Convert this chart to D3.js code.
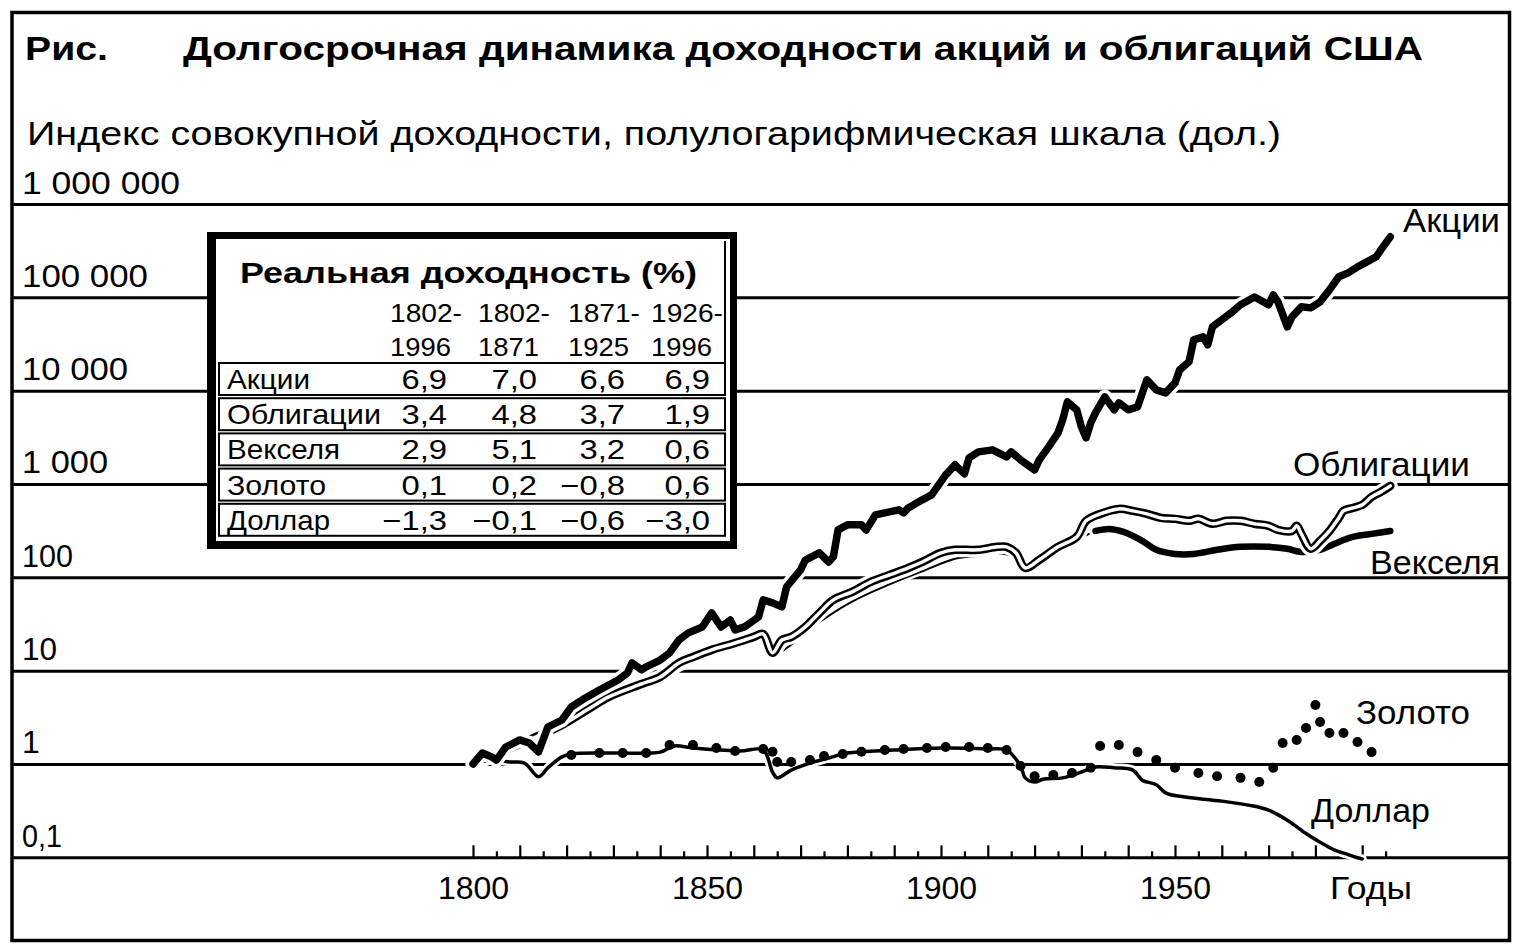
<!DOCTYPE html>
<html><head><meta charset="utf-8">
<script src="https://cdn.jsdelivr.net/npm/d3@7"></script>
<style>
html,body{margin:0;padding:0;background:#fff;}
svg{display:block;font-family:"Liberation Sans",Arial,Helvetica,sans-serif;}
</style></head><body>
<svg id="c" width="1524" height="951"></svg>
<script>
// ---------------- DATA ----------------
const stockSeries = [[1800,1],[1802,1.31],[1804,1.19],[1805,1.10],[1807,1.52],[1810,1.81],[1812,1.68],[1814,1.35],[1816,2.49],[1819,2.96],
[1821,4.08],[1824,5.10],[1827,6.21],[1831,7.95],[1833,9.45],[1834,12.1],[1836,10.2],[1837,11.0],[1840,13.0],[1842,15.5],
[1844,21.3],[1846,25.4],[1849,29.4],[1851,41.5],[1853,29.4],[1855,34.9],[1856,27.3],[1858,29.4],[1861,37.6],[1862,57.3],
[1864,53.2],[1866,48.2],[1867,78.9],[1870,120],[1871,153],[1874,183],[1876,146],[1877,166],[1878,322],[1880,365],
[1883,365],[1884,322],[1886,467],[1888,490],[1891,528],[1892,490],[1893,554],[1896,676],[1898,765],[1901,1253],
[1903,1604],[1905,1283],[1906,1905],[1908,2210],[1911,2320],[1914,1950],[1915,2210],[1917,1813],[1920,1416],[1921,1813],
[1923,2500],[1925,3530],[1926,4870],[1927,7590],[1929,6230],[1930,4090],[1931,3120],[1932,4520],[1933,5780],[1935,8590],
[1937,6230],[1938,7400],[1940,6230],[1942,6700],[1944,13060],[1946,10200],[1948,9470],[1950,12100],[1951,16700],[1953,20400],
[1954,35000],[1956,37700],[1957,31000],[1958,48300],[1960,57400],[1962,68200],[1964,83200],[1967,101000],[1970,83200],[1971,106000],
[1972,89500],[1974,48300],[1975,61800],[1977,79100],[1979,77100],[1981,89500],[1983,120000],[1985,166000],[1987,183000],[1989,212000],
[1991,240000],[1993,272000],[1994,323000],[1996,445000]];

const bondSeries = [[1800,1],[1806,1.35],[1812,1.81],[1819,2.62],[1825,3.98],[1829,5.23],[1836,7.2],[1840,8.56],[1844,12.1],[1847,14.0],
[1851,16.7],[1856,19.8],[1860,23.0],[1862,24.7],[1864,15.5],[1866,21.3],[1868,23.0],[1871,29.4],[1874,41.5],[1877,57.3],
[1881,69.8],[1885,89.3],[1889,106],[1893,126],[1896,146],[1900,183],[1903,197],[1908,197],[1912,212],[1914,212],
[1916,183],[1918,126],[1921,154],[1925,212],[1929,271],[1931,403],[1934,478],[1938,541],[1941,515],[1944,478],
[1947,433],[1950,423],[1953,403],[1955,423],[1958,374],[1961,403],[1964,403],[1967,374],[1970,356],[1972,322],
[1975,314],[1976,356],[1977,292],[1979,202],[1981,246],[1983,314],[1985,433],[1986,515],[1988,554],[1990,597],
[1992,727],[1994,823],[1996,955]];

const billSeriesEarly = [[1800,1],[1806,1.3],[1812,1.7],[1819,2.4],[1825,3.6],[1829,4.6],[1836,6.3],[1840,7.5],[1844,10.5],[1851,14.5],
[1856,17.5],[1862,21],[1864,14.5],[1868,19],[1874,33],[1881,55],[1889,84],[1896,116],[1903,158],[1908,170],
[1912,182],[1916,160],[1918,115],[1921,138],[1925,190],[1929,250],[1933,314]];

const billSeries = [[1933,314],[1936,330],[1939,307],[1943,246],[1946,197],[1950,178],[1954,178],[1959,197],[1964,212],[1970,212],
[1974,202],[1977,187],[1981,197],[1984,228],[1988,271],[1992,292],[1996,314]];

const dollarSeries = [[1800,1.0],[1804,1.10],[1808,1.05],[1811,1.02],[1814,0.73],[1816,0.91],[1819,1.19],[1821,1.28],[1830,1.31],[1840,1.34],
[1843,1.56],[1847,1.48],[1857,1.38],[1862,1.41],[1864,0.82],[1865,0.71],[1868,0.86],[1872,1.02],[1876,1.16],[1880,1.31],
[1890,1.41],[1900,1.48],[1910,1.45],[1914,1.41],[1917,0.95],[1918,0.71],[1920,0.64],[1922,0.69],[1926,0.71],[1930,0.82],
[1933,0.93],[1937,0.91],[1941,0.86],[1943,0.67],[1946,0.60],[1948,0.49],[1951,0.45],[1960,0.40],[1966,0.36],[1970,0.32],
[1974,0.25],[1978,0.18],[1981,0.145],[1984,0.12],[1987,0.107],[1989,0.099],[1990,0.096]];

const goldSeries = [[1821,1.25],[1827,1.31],[1832,1.31],[1837,1.31],[1842,1.60],[1847,1.60],[1852,1.48],[1856,1.38],[1862,1.45],[1864,1.35],
[1865,1.05],[1868,1.05],[1872,1.10],[1875,1.22],[1879,1.28],[1883,1.35],[1888,1.41],[1892,1.45],[1897,1.48],[1901,1.52],
[1906,1.52],[1910,1.48],[1914,1.41],[1917,0.95],[1920,0.74],[1924,0.76],[1928,0.80],[1932,0.91],[1934,1.56],[1938,1.60],
[1942,1.34],[1946,1.10],[1950,0.91],[1955,0.80],[1959,0.74],[1964,0.71],[1968,0.64],[1971,0.91],[1973,1.68],[1976,1.81],
[1978,2.43],[1980,4.29],[1981,2.82],[1983,2.15],[1986,2.15],[1989,1.72],[1992,1.34]];

const yTickValues = [1e6,1e5,1e4,1e3,100,10,1,0.1];
const yTickLabels = ["1 000 000","100 000","10 000","1 000","100","10","1","0,1"];
const xMinorTicks = d3.range(1800,1996,5);
const xLabelYears = [1800,1850,1900,1950];
const xAxisTitle = "Годы";

const figLabel = "Рис.";
const titleText = "Долгосрочная динамика доходности акций и облигаций США";
const subtitleText = "Индекс совокупной доходности, полулогарифмическая шкала (дол.)";
const seriesNames = ["Акции","Облигации","Векселя","Золото","Доллар"];

const tableTitle = "Реальная доходность (%)";
const periodStarts = ["1802-","1802-","1871-","1926-"];
const periodEnds = ["1996","1871","1925","1996"];
const tableRowNames = ["Акции","Облигации","Векселя","Золото","Доллар"];
const realReturns = [["6,9","7,0","6,6","6,9"],["3,4","4,8","3,7","1,9"],["2,9","5,1","3,2","0,6"],["0,1","0,2","−0,8","0,6"],["−1,3","−0,1","−0,6","−3,0"]];

// ---------------- DRAW ----------------
const svg = d3.select("#c");
svg.append("rect").attr("width",1524).attr("height",951).attr("fill","#fff");

const x = d3.scaleLinear().domain([1800,1950]).range([473,1175]);
const y = d3.scaleLog().domain([0.1,1e6]).range([857.3,204]);

function addText(g, str, px, py, o){
  const t = g.append("text").attr("x",px).attr("y",py).text(str)
    .attr("font-size",o.size).attr("font-weight",o.weight||"normal")
    .attr("text-anchor",o.anchor||"start").attr("fill","#000");
  if (o.len) t.attr("textLength",o.len).attr("lengthAdjust","spacingAndGlyphs");
  else if (o.k){ const w=t.node().getComputedTextLength(); t.attr("textLength",w*o.k).attr("lengthAdjust","spacingAndGlyphs"); }
  return t;
}

// titles
addText(svg, figLabel, 25, 60, {size:34, weight:"bold", len:83});
addText(svg, titleText, 183, 60, {size:34, weight:"bold", len:1240});
addText(svg, subtitleText, 27, 145, {size:34, len:1254});

// grid / y axis
const yLens = [158,126,106,86,51,35,null,40];
const gY = svg.append("g").attr("transform","translate(12,0)")
  .call(d3.axisRight(y).tickValues(yTickValues).tickSize(1498).tickFormat((d,i)=>yTickLabels[i]));
gY.select(".domain").remove();
gY.selectAll(".tick line").attr("stroke","#000").attr("stroke-width",3);
gY.selectAll(".tick text").attr("x",10).attr("dy",-11).attr("text-anchor","start")
  .attr("font-size",32).attr("font-family","Liberation Sans, Arial, sans-serif").attr("fill","#000")
  .each(function(d,i){ if(yLens[i]) d3.select(this).attr("textLength",yLens[i]).attr("lengthAdjust","spacingAndGlyphs"); });

// x axis ticks (upward from 0.1 line)
const gX = svg.append("g").attr("transform",`translate(0,${y(0.1)})`)
  .call(d3.axisTop(x).tickValues(xMinorTicks).tickSize(6).tickFormat(""));
gX.select(".domain").remove();
gX.selectAll(".tick line").attr("stroke","#000").attr("stroke-width",2.2)
  .attr("y2", d => d%10===0 ? -12 : -6);
const gXL = svg.append("g").attr("transform",`translate(0,${y(0.1)})`)
  .call(d3.axisBottom(x).tickValues(xLabelYears).tickSize(0).tickFormat(d3.format("d")));
gXL.select(".domain").remove();
gXL.selectAll(".tick text").attr("y",42).attr("dy",0).attr("font-size",32)
  .attr("font-family","Liberation Sans, Arial, sans-serif").attr("fill","#000");
addText(svg, xAxisTitle, 1371, 899, {size:32, anchor:"middle", len:82});

// outer frame
svg.append("rect").attr("x",12).attr("y",12.5).attr("width",1497.5).attr("height",928)
  .attr("fill","none").attr("stroke","#000").attr("stroke-width",3.5);

// series
const lineLin = d3.line().x(d=>x(d[0])).y(d=>y(d[1]));
const lineSmooth = d3.line().x(d=>x(d[0])).y(d=>y(d[1])).curve(d3.curveCatmullRom.alpha(0.5));
const gS = svg.append("g").attr("fill","none").attr("stroke-linejoin","round").attr("stroke-linecap","round");
function drawPath(data, gen, w, color){
  return gS.append("path").attr("d",gen(data)).attr("stroke",color).attr("stroke-width",w);
}
// bills (early thin, later thick)
drawPath(billSeriesEarly, lineSmooth, 7, "#fff");
drawPath(billSeriesEarly, lineSmooth, 2, "#000");
drawPath(billSeries, lineSmooth, 13, "#fff");
drawPath(billSeries, lineSmooth, 6.5, "#000");
// bonds (double line)
drawPath(bondSeries, lineSmooth, 15, "#fff");
drawPath(bondSeries, lineSmooth, 8.5, "#000");
drawPath(bondSeries, lineSmooth, 3.5, "#fff");
// dollar
drawPath(dollarSeries, lineSmooth, 9, "#fff");
drawPath(dollarSeries, lineSmooth, 3.5, "#000");
// gold dots
svg.append("g").selectAll("circle").data(goldSeries).join("circle")
  .attr("cx",d=>x(d[0])).attr("cy",d=>y(d[1])).attr("r",5).attr("fill","#000");
// stocks
drawPath(stockSeries, lineLin, 14.5, "#fff");
drawPath(stockSeries, lineLin, 7.5, "#000");

// series labels
const labelPos = [[1403,232,97],[1293,476,177],[1370,574,130],[1356,724,114],[1311,822,119]];
seriesNames.forEach((s,i)=>addText(svg, s, labelPos[i][0], labelPos[i][1], {size:34, len:labelPos[i][2]}));

// ---------------- TABLE ----------------
const gT = svg.append("g");
gT.append("rect").attr("x",207).attr("y",232).attr("width",530).attr("height",317).attr("fill","#000");
gT.append("rect").attr("x",216).attr("y",239).attr("width",514).attr("height",302).attr("fill","#fff");
gT.append("line").attr("x1",725).attr("x2",725).attr("y1",241).attr("y2",362).attr("stroke","#000").attr("stroke-width",2);
addText(gT, tableTitle, 240, 283, {size:29, weight:"bold", len:457});
const colLeft = [390,478,568,651];
const colRight = [447,537,625,710];
periodStarts.forEach((s,i)=>addText(gT, s, colLeft[i], 322, {size:25, len:72}));
periodEnds.forEach((s,i)=>addText(gT, s, colLeft[i], 356, {size:25, len:61}));
const rowLabelLens = [83,154,113,99,103];
tableRowNames.forEach((r,i)=>{
  const top = 363 + i*35.2;
  gT.append("rect").attr("x",219).attr("y",top).attr("width",506).attr("height",32)
    .attr("fill","#fff").attr("stroke","#000").attr("stroke-width",2);
  addText(gT, r, 227, top+26, {size:28, len:rowLabelLens[i]});
  realReturns[i].forEach((v,j)=>addText(gT, v, colRight[j], top+26, {size:28, anchor:"end", k:1.17}));
});
</script>
</body></html>
